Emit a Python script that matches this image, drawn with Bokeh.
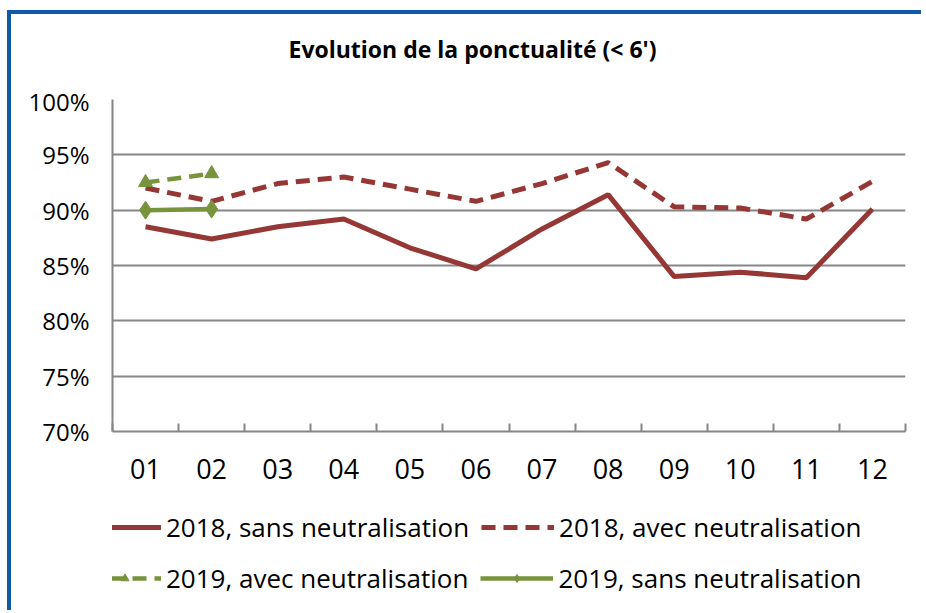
from bokeh.plotting import figure
from bokeh.layouts import column
from bokeh.models import FixedTicker, Legend, LegendItem, Range1d
from bokeh.embed import file_html
from bokeh.resources import INLINE

# ---- data ----
months = ["01", "02", "03", "04", "05", "06", "07", "08", "09", "10", "11", "12"]
sans_2018 = [88.5, 87.4, 88.5, 89.2, 86.6, 84.7, 88.3, 91.4, 84.0, 84.4, 83.9, 90.1]
avec_2018 = [92.0, 90.8, 92.4, 93.0, 91.9, 90.8, 92.4, 94.3, 90.3, 90.2, 89.2, 92.6]
avec_2019 = [92.5, 93.3]
sans_2019 = [90.0, 90.1]
y_ticks = [70, 75, 80, 85, 90, 95, 100]
title_text = "Evolution de la ponctualité (< 6')"
labels = ["2018, sans neutralisation", "2018, avec neutralisation",
          "2019, avec neutralisation", "2019, sans neutralisation"]

RED = "#953735"
GREEN = "#77933C"
GRID = "#868686"
BLUE = "#0f5ba7"
FONT = "Open Sans"
W = 910

xs = [i + 1 for i in range(len(months))]
xs19 = xs[:len(avec_2019)]


def blank(height, **kw):
    f = figure(width=W, height=height, output_backend="svg", toolbar_location=None,
               x_axis_type=None, y_axis_type=None, x_range=Range1d(0, 1), y_range=Range1d(0, 1),
               min_border=0, **kw)
    f.outline_line_color = None
    f.background_fill_color = "white"
    f.border_fill_color = "white"
    return f


# ---- title strip ----
tf = blank(70, min_border_top=50)
tf.title.text = title_text
tf.title.text_font = FONT
tf.title.text_font_style = "bold"
tf.title.text_font_size = "23px"
tf.title.align = "left"
tf.title.offset = 176
tf.title.standoff = 0
tf.title.text_color = "#000000"

# ---- main chart ----
p = figure(width=W, height=15 + 332 + 70, output_backend="svg", toolbar_location=None,
           x_range=Range1d(0.5, len(months) + 0.5), y_range=Range1d(min(y_ticks), max(y_ticks)),
           min_border_left=101, min_border_right=W - 101 - 793, min_border_top=15,
           min_border_bottom=70)
p.outline_line_color = None
p.background_fill_color = "white"
p.border_fill_color = "white"

p.xaxis.ticker = FixedTicker(ticks=xs, minor_ticks=[x - 0.5 for x in xs] + [xs[-1] + 0.5])
p.xaxis.major_label_overrides = {x: m for x, m in zip(xs, months)}
p.xaxis.major_tick_in = 0
p.xaxis.major_tick_out = 0
p.xaxis.minor_tick_in = 8
p.xaxis.minor_tick_out = 0
p.xaxis.minor_tick_line_color = GRID
p.xaxis.minor_tick_line_width = 2
p.xaxis.axis_line_color = GRID
p.xaxis.axis_line_width = 2
p.xaxis.major_label_text_font = FONT
p.xaxis.major_label_text_font_size = "27px"
p.xaxis.major_label_text_color = "#000000"
p.xaxis.major_label_standoff = 27

p.yaxis.ticker = FixedTicker(ticks=y_ticks)
p.yaxis.major_label_overrides = {t: f"{t}%" for t in y_ticks}
p.yaxis.major_tick_in = 0
p.yaxis.major_tick_out = 0
p.yaxis.minor_tick_line_color = None
p.yaxis.axis_line_color = GRID
p.yaxis.axis_line_width = 2
p.yaxis.major_label_text_font = FONT
p.yaxis.major_label_text_font_size = "24px"
p.yaxis.major_label_text_color = "#000000"
p.yaxis.major_label_standoff = 23

p.xgrid.grid_line_color = None
p.ygrid.grid_line_color = GRID
p.ygrid.grid_line_width = 2

styles = [
    dict(line_color=RED, line_width=5),
    dict(line_color=RED, line_width=5, line_dash="14 8"),
    dict(line_color=GREEN, line_width=4.5, line_dash="14 8"),
    dict(line_color=GREEN, line_width=4.5),
]
markers = [None, None, dict(marker="triangle", size=14), dict(marker="diamond", size=18)]
series = [(xs, sans_2018), (xs, avec_2018), (xs19, avec_2019), (xs19, sans_2019)]

for (sx, sy), st, mk in zip(series, styles, markers):
    p.line(sx, sy, **st)
    if mk:
        p.scatter(sx, sy, fill_color=st["line_color"], line_color=st["line_color"], **mk)

# ---- legend strip (same series, outside its 0..1 view, only feeding the legend) ----
lf = blank(109)
items = []
for lab, (sx, sy), st, mk in zip(labels, series, styles, markers):
    rs = [lf.line(sx, sy, **st)]
    if mk:
        rs.append(lf.scatter(sx, sy, fill_color=st["line_color"], line_color=st["line_color"], **mk))
    items.append(LegendItem(label=lab, renderers=rs))


def make_legend(its, loc):
    lg = Legend(items=its, orientation="horizontal", location=loc)
    lg.label_text_font = FONT
    lg.label_text_font_size = "26px"
    lg.label_text_color = "#000000"
    lg.glyph_width = 73
    lg.glyph_height = 20
    lg.label_standoff = 5
    lg.spacing = 12
    lg.padding = 0
    lg.margin = 0
    lg.border_line_color = None
    lg.background_fill_alpha = 0
    return lg


lf.add_layout(make_legend(items[:2], (-24, 65)), "center")
lf.add_layout(make_legend(items[2:], (-24, 14)), "center")

layout = column(tf, p, lf, spacing=0,
                styles={"border-left": f"4px solid {BLUE}", "border-top": f"4px solid {BLUE}",
                        "margin-left": "7px", "margin-top": "10px"})

open("out.html", "w").write(file_html(layout, INLINE))
